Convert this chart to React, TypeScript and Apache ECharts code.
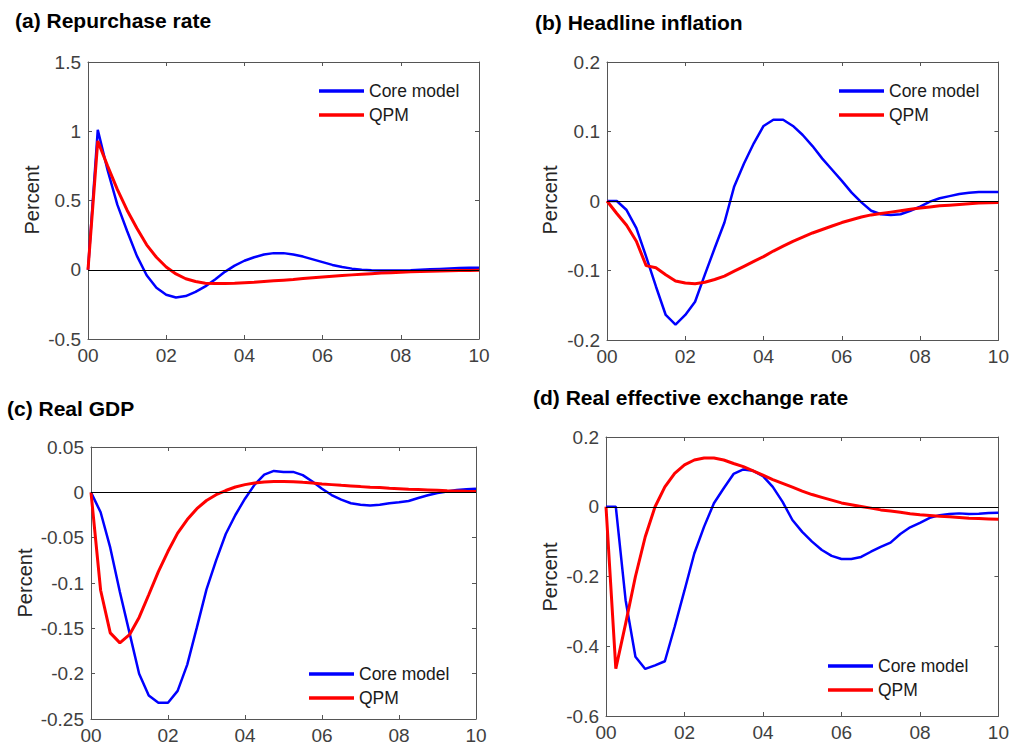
import React, { useEffect, useRef } from "react";
import * as echarts from "echarts";

const quarters = [0, 0.25, 0.5, 0.75, 1, 1.25, 1.5, 1.75, 2, 2.25, 2.5, 2.75, 3, 3.25, 3.5, 3.75, 4, 4.25, 4.5, 4.75, 5, 5.25, 5.5, 5.75, 6, 6.25, 6.5, 6.75, 7, 7.25, 7.5, 7.75, 8, 8.25, 8.5, 8.75, 9, 9.25, 9.5, 9.75, 10];

const xTickLabels = ["00", "02", "04", "06", "08", "10"];

const titles = ["(a) Repurchase rate", "(b) Headline inflation", "(c) Real GDP", "(d) Real effective exchange rate"];
const seriesNames = ["Core model", "QPM"];

// (a) Repurchase rate
const repoCore = [0, 1.01, 0.72, 0.47, 0.28, 0.1, -0.04, -0.13, -0.18, -0.2, -0.19, -0.16, -0.12, -0.07, -0.015, 0.03, 0.065, 0.09, 0.11, 0.12, 0.12, 0.11, 0.095, 0.075, 0.055, 0.035, 0.02, 0.008, 0.0, -0.004, -0.006, -0.006, -0.005, -0.003, 0.0, 0.003, 0.006, 0.009, 0.012, 0.014, 0.015];
const repoQpm = [0, 0.93, 0.75, 0.58, 0.43, 0.3, 0.18, 0.09, 0.02, -0.03, -0.065, -0.085, -0.097, -0.1, -0.1, -0.098, -0.094, -0.09, -0.085, -0.08, -0.075, -0.07, -0.064, -0.058, -0.052, -0.047, -0.042, -0.037, -0.032, -0.028, -0.024, -0.021, -0.018, -0.015, -0.013, -0.011, -0.009, -0.007, -0.006, -0.005, -0.004];

// (b) Headline inflation
const inflCore = [0, 0, -0.013, -0.039, -0.08, -0.123, -0.164, -0.178, -0.164, -0.145, -0.106, -0.068, -0.031, 0.021, 0.054, 0.083, 0.108, 0.117, 0.117, 0.108, 0.095, 0.079, 0.061, 0.045, 0.029, 0.012, -0.002, -0.014, -0.019, -0.02, -0.019, -0.014, -0.008, -0.001, 0.004, 0.007, 0.01, 0.012, 0.013, 0.013, 0.013];
const inflQpm = [0, -0.018, -0.035, -0.058, -0.093, -0.096, -0.106, -0.115, -0.118, -0.119, -0.117, -0.113, -0.108, -0.101, -0.094, -0.087, -0.08, -0.072, -0.065, -0.058, -0.052, -0.046, -0.041, -0.036, -0.031, -0.027, -0.023, -0.02, -0.018, -0.016, -0.014, -0.012, -0.01, -0.0085, -0.007, -0.006, -0.005, -0.004, -0.003, -0.0025, -0.002];

// (c) Real GDP
const gdpCore = [0, -0.022, -0.061, -0.11, -0.155, -0.2, -0.224, -0.232, -0.232, -0.219, -0.19, -0.149, -0.107, -0.075, -0.046, -0.025, -0.007, 0.0085, 0.0196, 0.0236, 0.0225, 0.0225, 0.019, 0.012, 0.004, -0.003, -0.008, -0.012, -0.0137, -0.0144, -0.0137, -0.012, -0.011, -0.0096, -0.0063, -0.0033, -0.0007, 0.001, 0.0026, 0.0033, 0.004];
const gdpQpm = [0, -0.108, -0.155, -0.166, -0.157, -0.138, -0.113, -0.0875, -0.065, -0.045, -0.03, -0.018, -0.009, -0.0026, 0.002, 0.0059, 0.0085, 0.0103, 0.0114, 0.012, 0.012, 0.0118, 0.011, 0.0103, 0.0092, 0.0085, 0.0077, 0.007, 0.0063, 0.0055, 0.0052, 0.0044, 0.004, 0.0033, 0.003, 0.0026, 0.0022, 0.0018, 0.0015, 0.0011, 0.001];

// (d) Real effective exchange rate
const reerCore = [0, 0, -0.268, -0.43, -0.465, -0.455, -0.443, -0.344, -0.24, -0.134, -0.057, 0.01, 0.053, 0.094, 0.107, 0.103, 0.088, 0.057, 0.014, -0.038, -0.072, -0.1, -0.124, -0.141, -0.15, -0.15, -0.144, -0.129, -0.115, -0.103, -0.078, -0.059, -0.046, -0.032, -0.024, -0.021, -0.019, -0.021, -0.02, -0.018, -0.017];
const reerQpm = [0, -0.464, -0.335, -0.2, -0.086, 0, 0.057, 0.096, 0.12, 0.134, 0.14, 0.14, 0.134, 0.124, 0.115, 0.103, 0.091, 0.078, 0.067, 0.056, 0.045, 0.035, 0.027, 0.019, 0.011, 0.006, 0.001, -0.004, -0.009, -0.012, -0.016, -0.02, -0.023, -0.025, -0.027, -0.029, -0.031, -0.033, -0.034, -0.035, -0.036];

const yMins = [-0.5, -0.2, -0.25, -0.6];
const yMaxs = [1.5, 0.2, 0.05, 0.2];
const yIntervals = [0.5, 0.1, 0.05, 0.2];

const FONT = "'Liberation Sans', Arial, Helvetica, sans-serif";

export default function App() {
  const ref = useRef<HTMLDivElement>(null);
  useEffect(() => {
    if (!ref.current) return;
    const chart = echarts.init(ref.current, undefined, { renderer: "svg" });

    const grids = [
      { left: 88, top: 62, width: 391, height: 277 },
      { left: 607, top: 62, width: 392, height: 278 },
      { left: 91, top: 447, width: 385, height: 272 },
      { left: 606, top: 437, width: 394, height: 279 },
    ];
    const coreData = [repoCore, inflCore, gdpCore, reerCore];
    const qpmData = [repoQpm, inflQpm, gdpQpm, reerQpm];

    const axisLineStyle = { color: "#555555", width: 1 };
    const labelColor = "#404040";

    const xAxes: any[] = [];
    const yAxes: any[] = [];
    for (let i = 0; i < 4; i++) {
      xAxes.push({
        type: "value", gridIndex: i, min: 0, max: 10, interval: 2, position: "bottom",
        axisLine: { show: true, onZero: false, lineStyle: axisLineStyle },
        axisTick: { show: true, inside: true, length: 4, lineStyle: axisLineStyle },
        axisLabel: {
          show: true, color: labelColor, fontSize: 19, fontFamily: FONT, margin: 7,
          formatter: (v: number) => xTickLabels[Math.round(v / 2)] ?? "",
        },
        splitLine: { show: false },
      });
      yAxes.push({
        type: "value", gridIndex: i, min: yMins[i], max: yMaxs[i], interval: yIntervals[i], position: "left",
        axisLine: { show: true, onZero: false, lineStyle: axisLineStyle },
        axisTick: { show: true, inside: true, length: 4, lineStyle: axisLineStyle },
        axisLabel: {
          show: true, color: labelColor, fontSize: 19, fontFamily: FONT, margin: 7,
          formatter: (v: number) => String(parseFloat(v.toFixed(3))),
        },
        splitLine: { show: false },
      });
    }
    for (let i = 0; i < 4; i++) {
      xAxes.push({
        type: "value", gridIndex: i, min: 0, max: 10, interval: 2, position: "top",
        axisLine: { show: true, onZero: false, lineStyle: axisLineStyle },
        axisTick: { show: true, inside: true, length: 4, lineStyle: axisLineStyle },
        axisLabel: { show: false },
        splitLine: { show: false },
      });
      yAxes.push({
        type: "value", gridIndex: i, min: yMins[i], max: yMaxs[i], interval: yIntervals[i], position: "right",
        axisLine: { show: true, onZero: false, lineStyle: axisLineStyle },
        axisTick: { show: true, inside: true, length: 4, lineStyle: axisLineStyle },
        axisLabel: { show: false },
        splitLine: { show: false },
      });
    }

    const series: any[] = [];
    for (let i = 0; i < 4; i++) {
      series.push({
        name: "zero" + i, type: "line", xAxisIndex: i, yAxisIndex: i, data: [], silent: true, z: 1,
        markLine: {
          silent: true, symbol: ["none", "none"], label: { show: false },
          lineStyle: { color: "#000000", width: 1, type: "solid" },
          data: [{ yAxis: 0 }],
        },
      });
      series.push({
        name: seriesNames[0], type: "line", xAxisIndex: i, yAxisIndex: i, z: 3,
        data: quarters.map((q, k) => [q, coreData[i][k]]),
        showSymbol: false, symbol: "none", smooth: false,
        lineStyle: { color: "#0000ff", width: 2.5 }, itemStyle: { color: "#0000ff" },
      });
      series.push({
        name: seriesNames[1], type: "line", xAxisIndex: i, yAxisIndex: i, z: 4,
        data: quarters.map((q, k) => [q, qpmData[i][k]]),
        showSymbol: false, symbol: "none", smooth: false,
        lineStyle: { color: "#ff0000", width: 3 }, itemStyle: { color: "#ff0000" },
      });
    }

    const legendPos = [
      { left: 319, top: 82 },
      { left: 839, top: 82 },
      { left: 309, top: 665 },
      { left: 828, top: 657 },
    ];
    const legends = legendPos.map((p) => ({
      orient: "vertical", left: p.left, top: p.top, itemWidth: 45, itemHeight: 3.5, itemGap: 6,
      icon: "rect", padding: 0,
      data: seriesNames,
      textStyle: { color: "#1a1a1a", fontSize: 17.5, fontFamily: FONT },
      selectedMode: false,
    }));

    const titlePos = [
      { x: 15, y: 20 },
      { x: 535, y: 22 },
      { x: 7, y: 408 },
      { x: 533, y: 397 },
    ];
    const percentPos = [
      { x: 32, y: 200 },
      { x: 550, y: 200 },
      { x: 25, y: 583 },
      { x: 550, y: 577 },
    ];
    const graphic: any[] = [];
    titles.forEach((t, i) => {
      graphic.push({
        type: "text", x: titlePos[i].x, y: titlePos[i].y, silent: true,
        style: { text: t, fontSize: 21, fontWeight: "bold", fontFamily: FONT, fill: "#000000", textAlign: "left", textVerticalAlign: "middle" },
      });
      graphic.push({
        type: "text", x: percentPos[i].x, y: percentPos[i].y, rotation: Math.PI / 2, silent: true,
        style: { text: "Percent", fontSize: 20, fontFamily: FONT, fill: "#262626", textAlign: "center", textVerticalAlign: "middle" },
      });
    });

    chart.setOption({
      animation: false,
      backgroundColor: "#ffffff",
      grid: grids,
      xAxis: xAxes,
      yAxis: yAxes,
      legend: legends,
      series,
      graphic,
    });
    return () => chart.dispose();
  }, []);
  return <div ref={ref} style={{ position: "fixed", left: 0, top: 0, width: 1012, height: 749 }} />;
}
